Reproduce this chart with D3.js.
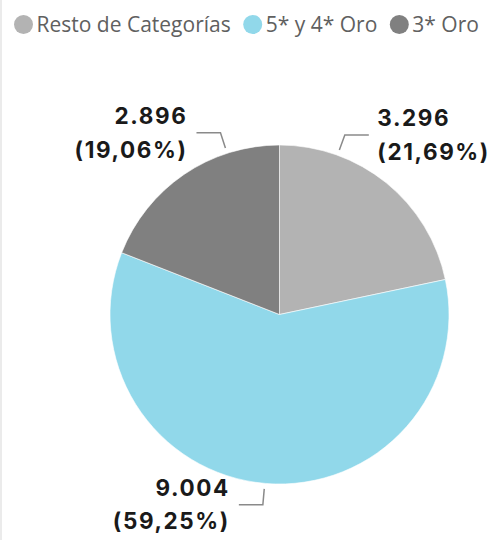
<!DOCTYPE html>
<html>
<head>
<meta charset="utf-8">
<script src="https://cdn.jsdelivr.net/npm/d3@7"></script>
<style>
  html, body { margin: 0; padding: 0; background: #ffffff; }
  svg { display: block; }
</style>
</head>
<body>
<svg id="chart" width="490" height="540"></svg>
<script>
// ---- data ----
const categories = ["Resto de Categorías", "5* y 4* Oro", "3* Oro"];
const values = [3296, 9004, 2896];
const valueLabels = ["3.296", "9.004", "2.896"];
const percentLabels = ["(21,69%)", "(59,25%)", "(19,06%)"];
const colors = ["#b3b3b3", "#91d8ea", "#808080"];

// ---- layout ----
const W = 490, H = 540;
const cx = 279.5, cy = 314.5, R = 169.5;
// label anchor angle (degrees, clockwise from 12 o'clock) — labels nudged to fit
const labelAngles = [20, 185, 342];

const svg = d3.select("#chart");
svg.append("rect").attr("x", 0).attr("y", 0).attr("width", W).attr("height", H).attr("fill", "#ffffff");
svg.append("rect").attr("x", 0).attr("y", 0).attr("width", 2).attr("height", H).attr("fill", "#ebebeb");

// legend
const legend = svg.append("g").attr("class", "legend");
let lx = 23.5;
categories.forEach((c, i) => {
  legend.append("circle").attr("cx", lx).attr("cy", 24.5).attr("r", 9.5).attr("fill", colors[i]);
  const t = legend.append("text")
    .attr("x", lx + 13)
    .attr("y", 24.5)
    .attr("dy", "0.36em")
    .attr("font-family", "'Open Sans', sans-serif")
    .attr("font-size", 21)
    .attr("fill", "#606060")
    .text(c);
  const w = t.node().getComputedTextLength();
  lx = lx + 13 + w + 22;
});

// pie
const pie = d3.pie().sort(null).value(d => d);
const arcs = pie(values);
const arc = d3.arc().innerRadius(0).outerRadius(R);
const g = svg.append("g").attr("transform", `translate(${cx},${cy})`);
g.selectAll("path").data(arcs).join("path")
  .attr("d", arc)
  .attr("fill", (d, i) => colors[i])
  .attr("stroke", "#ffffff")
  .attr("stroke-width", 0.6);

// labels
const lineH = 33.5;
const fs = 22.5;
arcs.forEach((d, i) => {
  const a = labelAngles[i] * Math.PI / 180;
  const p0 = [Math.sin(a) * (R + 5.5), -Math.cos(a) * (R + 5.5)];
  const p1 = [Math.sin(a) * (R + 21.5), -Math.cos(a) * (R + 21.5)];
  const right = Math.sin(a) > 0;
  const p2 = [p1[0] + (right ? 24 : -24), p1[1]];
  g.append("polyline")
    .attr("points", [p0, p1, p2].map(p => p.join(",")).join(" "))
    .attr("fill", "none")
    .attr("stroke", "#8a8a8a")
    .attr("stroke-width", 1.5);
  const tx = p2[0] + (right ? 8.5 : -9);
  const capH = 15.8;
  const blockTop = p1[1] - (lineH + capH) / 2;
  const t = g.append("text")
    .attr("text-anchor", right ? "start" : "end")
    .attr("font-family", "Inter, 'Open Sans', sans-serif")
    .attr("font-weight", 700)
    .attr("font-size", fs)
    .attr("letter-spacing", 1.6)
    .attr("fill", "#1a1a1a");
  t.append("tspan").attr("x", tx).attr("y", blockTop + capH).text(valueLabels[i]);
  t.append("tspan").attr("x", tx).attr("y", blockTop + capH + lineH).text(percentLabels[i]);
});
</script>
</body>
</html>
